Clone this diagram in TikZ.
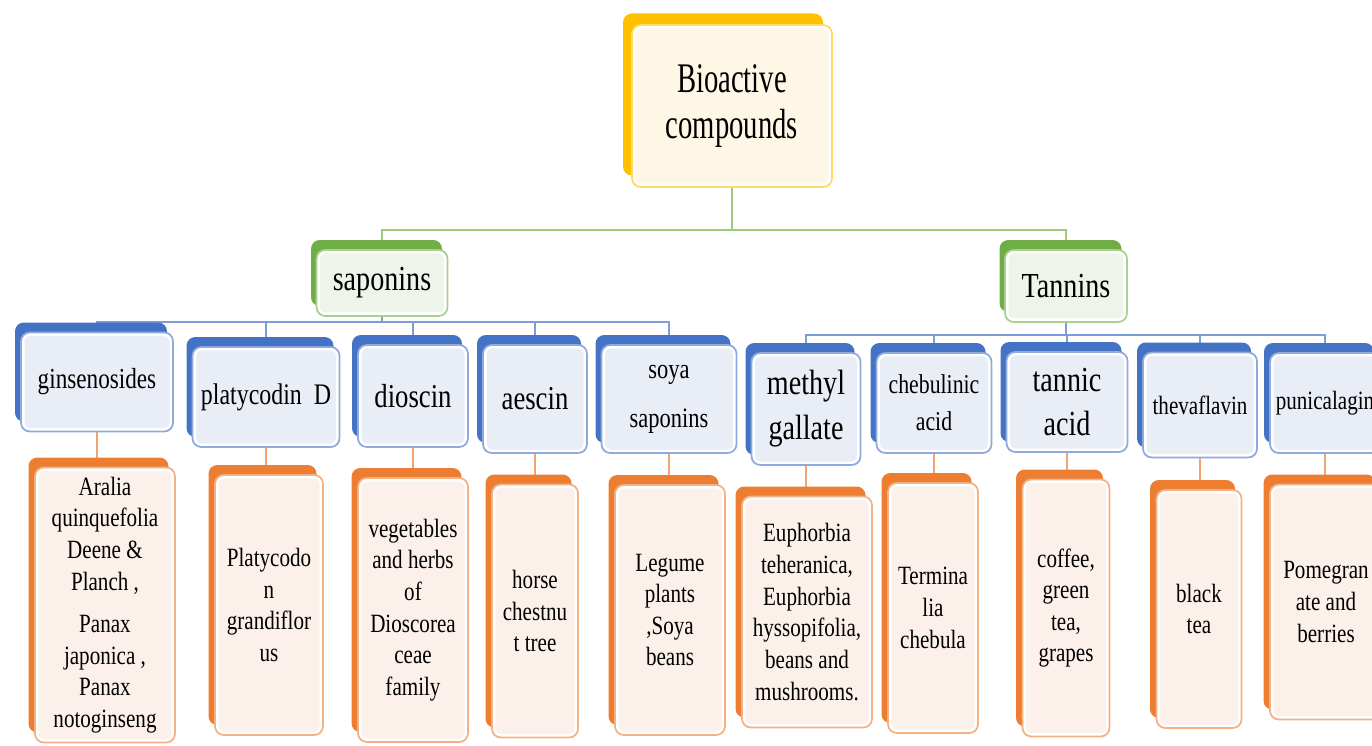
\documentclass[tikz,border=0pt]{standalone}
\usepackage{fontspec}
\setmainfont{Liberation Serif}[FakeStretch=0.8]
\newfontfamily\rootfont{Liberation Serif}[FakeStretch=0.68]
\usepackage{xcolor}
\usetikzlibrary{positioning,backgrounds,shadows}

\definecolor{ylwdk}{HTML}{FFC000}
\definecolor{ylwlt}{HTML}{FFD966}
\definecolor{ylwbg}{HTML}{FFF7E6}
\definecolor{grndk}{HTML}{70AD47}
\definecolor{grnlt}{HTML}{A9D18E}
\definecolor{grnbg}{HTML}{EEF4EA}
\definecolor{grnln}{HTML}{9CCB7E}
\definecolor{bludk}{HTML}{4472C4}
\definecolor{blult}{HTML}{8FAADC}
\definecolor{blubg}{HTML}{E9EDF6}
\definecolor{bluln}{HTML}{7C9DDA}
\definecolor{orgdk}{HTML}{ED7D31}
\definecolor{orglt}{HTML}{F4B183}
\definecolor{orgbg}{HTML}{FCF0EA}
\definecolor{orgln}{HTML}{F2A36E}

\begin{document}
\begin{tikzpicture}[x=0.02cm, y=-0.02cm,
    box/.style={rectangle, rounded corners=5pt, line width=1pt, align=center, inner sep=1pt, fill=white},
    boxfill/.style={path picture={\fill[#1, rounded corners=3pt] ([shift={(0.07cm,-0.07cm)}]path picture bounding box.north west) rectangle ([shift={(-0.07cm,0.07cm)}]path picture bounding box.south east);}},
    sz/.style 2 args={minimum width=#1*0.02cm, minimum height=#2*0.02cm},
    rootbox/.style={box, draw=ylwlt, boxfill=ylwbg, general shadow={fill=ylwdk, shadow xshift=-0.18cm, shadow yshift=0.23cm}, font=\rootfont\fontsize{24}{26.6}\selectfont},
    catbox/.style={box, draw=grnlt, boxfill=grnbg, general shadow={fill=grndk, shadow xshift=-0.11cm, shadow yshift=0.2cm}, font=\fontsize{20}{24}\selectfont},
    cmpbox/.style={box, draw=blult, boxfill=blubg, general shadow={fill=bludk, shadow xshift=-0.12cm, shadow yshift=0.2cm}, font=\fontsize{17}{25}\selectfont},
    srcbox/.style={box, draw=orglt, boxfill=orgbg, general shadow={fill=orgdk, shadow xshift=-0.13cm, shadow yshift=0.2cm}, font=\fontsize{15}{18}\selectfont},
    gline/.style={draw=grnln, line width=1.2pt},
    bline/.style={draw=bluln, line width=1.2pt},
    oline/.style={draw=orgln, line width=1.2pt}
]
\useasboundingbox (0,0) rectangle (1372,746);

% --- top and categories ---
\node[rootbox, sz={200}{162}] (root) at (732,106) {Bioactive\\compounds};
\node[catbox, sz={131}{66}] (sap) at (382,283) {saponins};
\node[catbox, sz={122}{72}] (tan) at (1066,286) {Tannins};

% --- compounds ---
\node[cmpbox, sz={152}{99}, font=\fontsize{16.5}{25}\selectfont] (gin) at (97,382) {ginsenosides};
\node[cmpbox, sz={147}{100}] (platy) at (266,397) {platycodin~ D};
\node[cmpbox, sz={110}{102}, font=\fontsize{19}{25}\selectfont] (dios) at (413,396) {dioscin};
\node[cmpbox, sz={104}{108}, font=\fontsize{19}{25}\selectfont] (aes) at (535,399) {aescin};
\node[cmpbox, sz={135}{108}, font=\fontsize{16}{28}\selectfont] (soya) at (669,399) {soya\\saponins};
\node[cmpbox, sz={109}{112}, font=\fontsize{20}{25.5}\selectfont] (meth) at (806,409) {methyl\\gallate};
\node[cmpbox, sz={115}{100}, font=\fontsize{15.5}{21}\selectfont] (cheb) at (934,403) {chebulinic\\acid};
\node[cmpbox, sz={121}{100}, font=\fontsize{20}{25.5}\selectfont] (tann) at (1067,402) {tannic\\acid};
\node[cmpbox, sz={114}{105}, font=\fontsize{15}{21}\selectfont] (thev) at (1200,405) {thevaflavin};
\node[cmpbox, sz={110}{100}, font=\fontsize{15}{21}\selectfont] (puni) at (1325,403) {punicalagin};

% --- sources ---
\node[srcbox, sz={140}{275}] (aralia) at (105,605) {Aralia\\quinquefolia\\Deene \&\\Planch ,\\[6pt]Panax\\japonica ,\\Panax\\notoginseng};
\node[srcbox, sz={108}{260}] (platyn) at (269,605) {Platycodo\\n\\grandiflor\\us};
\node[srcbox, sz={110}{264}] (vegs) at (413,610) {vegetables\\and herbs\\of\\Dioscorea\\ceae\\family};
\node[srcbox, sz={86}{253}] (horse) at (535,611) {horse\\chestnu\\t tree};
\node[srcbox, sz={110}{250}] (legume) at (670,610) {Legume\\plants\\,Soya\\beans};
\node[srcbox, sz={130}{231}] (euph) at (807,612) {Euphorbia\\teheranica,\\Euphorbia\\hyssopifolia,\\beans and\\mushrooms.};
\node[srcbox, sz={90}{250}] (termi) at (933,608) {Termina\\lia\\chebula};
\node[srcbox, sz={87}{257}] (coffee) at (1066,608) {coffee,\\green\\tea,\\grapes};
\node[srcbox, sz={85}{238}] (black) at (1199,609) {black\\tea};
\node[srcbox, sz={112}{235}] (pome) at (1326,602) {Pomegran\\ate and\\berries};

% --- connectors ---
\coordinate (gbus) at (0,230);
\coordinate (sbus) at (0,322);
\coordinate (tbus) at (0,335);
\begin{scope}[on background layer]
    \draw[gline] (root.south) -- (root.south |- gbus) -| (sap.north);
    \draw[gline] (root.south) -- (root.south |- gbus) -| (tan.north);
    \foreach \c in {gin,platy,dios,aes,soya}
        \draw[bline] (sap.south) -- (sap.south |- sbus) -| (\c.north);
    \foreach \c in {meth,cheb,tann,thev,puni}
        \draw[bline] (tan.south) -- (tan.south |- tbus) -| (\c.north);
    \foreach \a/\b in {gin/aralia,platy/platyn,dios/vegs,aes/horse,soya/legume,meth/euph,cheb/termi,tann/coffee,thev/black,puni/pome}
        \draw[oline] (\a.south) -- (\a.south |- \b.north);
\end{scope}

\end{tikzpicture}
\end{document}
